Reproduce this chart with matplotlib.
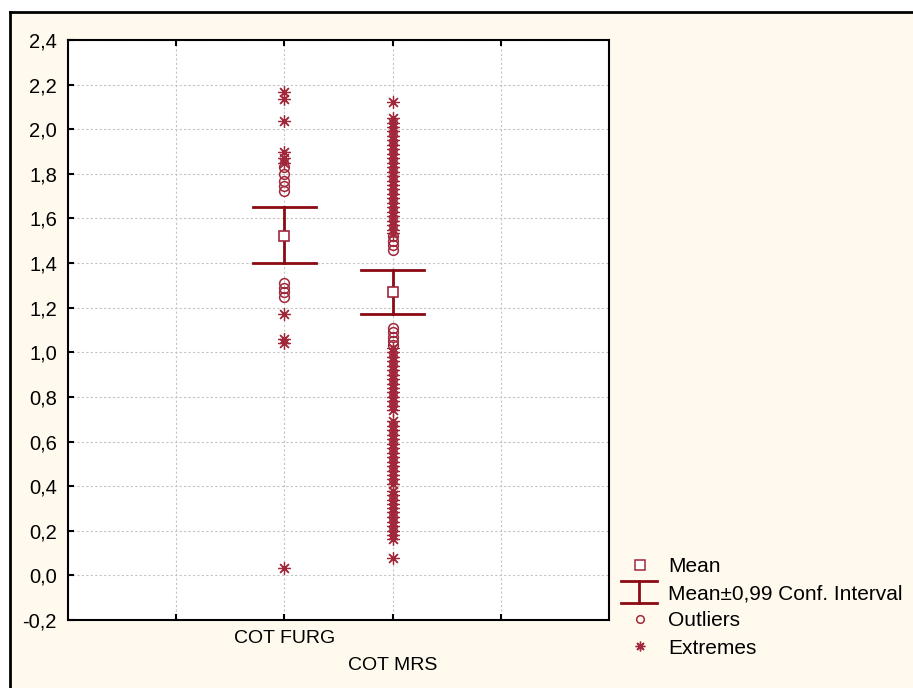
import matplotlib
matplotlib.use("Agg")
import matplotlib.pyplot as plt
from matplotlib.patches import Rectangle
from matplotlib.lines import Line2D
from matplotlib.ticker import FuncFormatter

plt.rcParams['font.family'] = ['Liberation Sans', 'DejaVu Sans']

categories = ["COT FURG", "COT MRS"]
cat_pos = [2, 3]
means = [1.523, 1.270]
ci_low = [1.402, 1.170]
ci_high = [1.653, 1.370]

furg_outliers = [1.83, 1.80, 1.77, 1.745, 1.725, 1.31, 1.29, 1.27, 1.25]
furg_extremes = [2.165, 2.135, 2.035, 1.90, 1.87, 1.85, 1.17, 1.06, 1.04, 0.033]

mrs_outliers = [1.52, 1.50, 1.48, 1.46, 1.11, 1.09, 1.07, 1.05, 1.035]
mrs_extremes = [2.12, 2.05, 2.03, 2.01, 1.99, 1.97, 1.95, 1.93, 1.91, 1.89,
                1.87, 1.85, 1.83, 1.81, 1.79, 1.77, 1.75, 1.73, 1.71, 1.69,
                1.67, 1.65, 1.63, 1.61, 1.59, 1.57, 1.55, 1.535,
                1.02, 1.00, 0.98, 0.96, 0.94, 0.92, 0.90, 0.88, 0.86, 0.84,
                0.82, 0.80, 0.78, 0.76, 0.74, 0.69, 0.67, 0.65, 0.63, 0.61,
                0.59, 0.57, 0.55, 0.53, 0.51, 0.49, 0.47, 0.45, 0.43, 0.41,
                0.38, 0.36, 0.34, 0.32, 0.30, 0.285, 0.26, 0.24, 0.22, 0.20,
                0.18, 0.165, 0.08]

yticks = [-0.2, 0.0, 0.2, 0.4, 0.6, 0.8, 1.0, 1.2, 1.4, 1.6, 1.8, 2.0, 2.2, 2.4]

RED = "#8B0A14"
MRED = "#A0283A"
CREAM = "#FFF9EE"

fig = plt.figure(figsize=(9.13, 6.88), dpi=100)
fig.patch.set_facecolor("white")

W, H = 913, 688
fig.patches.append(Rectangle((10 / W, 0), 1, (H - 12) / H, transform=fig.transFigure,
                             facecolor=CREAM, edgecolor="none", zorder=-5))
fig.lines.append(Line2D([10 / W, 10 / W], [0, (H - 12) / H], transform=fig.transFigure,
                        color="black", lw=2, zorder=-4))
fig.lines.append(Line2D([10 / W, 1], [(H - 12) / H, (H - 12) / H], transform=fig.transFigure,
                        color="black", lw=2, zorder=-4))

ax = fig.add_axes([68 / W, (H - 620) / H, (609 - 68) / W, (620 - 40) / H])
ax.set_zorder(2)
ax.set_facecolor("white")
ax.set_xlim(0, 5)
ax.set_ylim(-0.2, 2.4)

ax.set_xticks([1, 2, 3, 4])
ax.set_xticklabels([])
ax.set_yticks(yticks)
ax.yaxis.set_major_formatter(FuncFormatter(lambda v, p: f"{v:.1f}".replace(".", ",").replace("-0,0", "0,0")))
ax.grid(True, color="#C4C4C4", linestyle=(0, (2, 2)), linewidth=0.8)
ax.set_axisbelow(True)
ax.tick_params(direction="in", length=4, width=1.5, top=True, right=False, labelsize=14.5,
               colors="black", pad=8)
for s in ax.spines.values():
    s.set_linewidth(1.5)

cap = 0.29
for x, m, lo, hi in zip(cat_pos, means, ci_low, ci_high):
    ax.plot([x, x], [lo, hi], color=RED, lw=2, zorder=3)
    ax.plot([x - cap, x + cap], [lo, lo], color=RED, lw=2, zorder=3)
    ax.plot([x - cap, x + cap], [hi, hi], color=RED, lw=2, zorder=3)
    ax.plot([x], [m], marker="s", ms=6.5, mfc="white", mec=MRED, mew=1.2, ls="none", zorder=4)

for x, outs, exts in [(cat_pos[0], furg_outliers, furg_extremes), (cat_pos[1], mrs_outliers, mrs_extremes)]:
    ax.plot([x] * len(outs), outs, marker="o", ms=7, mfc="none", mec=MRED, mew=1.1, ls="none", zorder=4)
    ax.plot([x] * len(exts), exts, marker=(8, 2, 0), ms=9, mec=MRED, mew=0.9, ls="none", zorder=4)

ax.annotate(categories[0], xy=(cat_pos[0], -0.2), xycoords="data", xytext=(0, -10),
            textcoords="offset pixels", ha="center", va="top", fontsize=14, annotation_clip=False)
ax.annotate(categories[1], xy=(cat_pos[1], -0.2), xycoords="data", xytext=(0, -37),
            textcoords="offset pixels", ha="center", va="top", fontsize=14, annotation_clip=False)

def fx(px):
    return px / W

def fy(py):
    return (H - py) / H

fs = 15
ly = [565, 592, 619, 646]
fig.lines.append(Line2D([fx(640)], [fy(ly[0])], transform=fig.transFigure, marker="s", ms=6.5,
                        mfc="white", mec=MRED, mew=1.1, ls="none"))
fig.text(fx(668), fy(ly[0]), "Mean", fontsize=fs, va="center_baseline", ha="left")
for yy in (ly[1] - 11, ly[1] + 11):
    fig.lines.append(Line2D([fx(621), fx(657)], [fy(yy), fy(yy)], transform=fig.transFigure, color=RED, lw=2))
fig.lines.append(Line2D([fx(639), fx(639)], [fy(ly[1] - 11), fy(ly[1] + 11)], transform=fig.transFigure, color=RED, lw=2))
fig.text(fx(668), fy(ly[1]), "Mean±0,99 Conf. Interval", fontsize=fs, va="center_baseline", ha="left")
fig.lines.append(Line2D([fx(640)], [fy(ly[2])], transform=fig.transFigure, marker="o", ms=5.5,
                        mfc="none", mec=MRED, mew=1.1, ls="none"))
fig.text(fx(668), fy(ly[2]), "Outliers", fontsize=fs, va="center_baseline", ha="left")
fig.lines.append(Line2D([fx(640)], [fy(ly[3])], transform=fig.transFigure, marker=(8, 2, 0), ms=7,
                        mec=MRED, mew=1.0, ls="none"))
fig.text(fx(668), fy(ly[3]), "Extremes", fontsize=fs, va="center_baseline", ha="left")

fig.savefig("out.png", dpi=100, facecolor=fig.get_facecolor())
